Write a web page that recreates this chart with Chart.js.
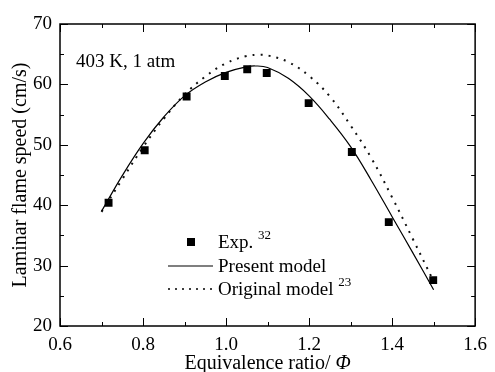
<!DOCTYPE html>
<html>
<head>
<meta charset="utf-8">
<script src="https://cdn.jsdelivr.net/npm/chart.js@4.4.1/dist/chart.umd.min.js"></script>
<style>
  html, body { margin: 0; padding: 0; background: #fff; }
  #wrap { width: 495px; height: 372px; }
</style>
</head>
<body>
<div id="wrap"><canvas id="myChart" width="495" height="372"></canvas></div>
<script>
// Exp. 32 (squares)
const expPhi   = [0.717, 0.804, 0.905, 0.997, 1.051, 1.098, 1.199, 1.303, 1.392, 1.499];
const expSpeed = [40.4, 49.1, 58.0, 61.4, 62.5, 61.9, 56.9, 48.8, 37.2, 27.6];

// Present model (solid)
const presentPhi   = [0.70, 0.75, 0.80, 0.85, 0.90, 0.95, 1.00, 1.05, 1.07, 1.10, 1.15, 1.20, 1.25, 1.30, 1.35, 1.40, 1.45, 1.50];
const presentSpeed = [39.0, 44.9, 50.2, 54.6, 58.1, 60.4, 62.0, 62.9, 63.05, 62.8, 61.0, 58.1, 54.2, 49.7, 44.1, 38.1, 32.1, 26.0];

// Original model 23 (dotted)
const originalPhi   = [0.70, 0.75, 0.80, 0.85, 0.90, 0.95, 1.00, 1.05, 1.08, 1.10, 1.15, 1.20, 1.25, 1.30, 1.35, 1.40, 1.45, 1.50];
const originalSpeed = [38.9, 44.3, 49.6, 54.3, 58.3, 61.3, 63.5, 64.7, 64.9, 64.8, 63.7, 61.4, 58.0, 53.2, 47.8, 41.3, 34.4, 27.4];

// axis ticks
const xTicks = [0.6, 0.7, 0.8, 0.9, 1.0, 1.1, 1.2, 1.3, 1.4, 1.5, 1.6];
const yTicks = [20, 25, 30, 35, 40, 45, 50, 55, 60, 65, 70];

const FONT = '"Liberation Serif", "Times New Roman", serif';

function toXY(xs, ys) {
    return xs.map(function(x, i) { return { x: x, y: ys[i] }; });
}

// Frame, inward ticks, annotation, legend and x title
const framePlugin = {
    id: 'frame',
    afterDraw: function(chart) {
        const ctx = chart.ctx;
        const a = chart.chartArea;
        const xs = chart.scales.x;
        const ys = chart.scales.y;
        ctx.save();
        ctx.strokeStyle = '#000';
        ctx.lineWidth = 1.5;
        ctx.strokeRect(a.left, a.top, a.right - a.left, a.bottom - a.top);

        ctx.lineWidth = 1;
        ctx.beginPath();
        xTicks.forEach(function(v, i) {
            const px = Math.round(xs.getPixelForValue(v)) + 0.5;
            const len = i % 2 === 0 ? 8 : 4;
            ctx.moveTo(px, a.bottom); ctx.lineTo(px, a.bottom - len);
            ctx.moveTo(px, a.top); ctx.lineTo(px, a.top + len);
        });
        yTicks.forEach(function(v, i) {
            const py = Math.round(ys.getPixelForValue(v)) + 0.5;
            const len = i % 2 === 0 ? 8 : 4;
            ctx.moveTo(a.left, py); ctx.lineTo(a.left + len, py);
            ctx.moveTo(a.right, py); ctx.lineTo(a.right - len, py);
        });
        ctx.stroke();

        ctx.fillStyle = '#000';
        ctx.textBaseline = 'middle';
        ctx.textAlign = 'left';
        ctx.font = '19px ' + FONT;
        ctx.fillText('403 K, 1 atm', a.left + 16, a.top + 38);

        // legend
        const lx = a.left + 108;
        const tx = a.left + 158;
        // Exp.
        ctx.fillRect(lx + 19, 238, 8, 8);
        ctx.fillText('Exp.', tx, 243);
        let w = ctx.measureText('Exp. ').width;
        ctx.font = '13px ' + FONT;
        ctx.fillText('32', tx + w, 236);
        // Present model
        ctx.font = '19px ' + FONT;
        ctx.beginPath();
        ctx.lineWidth = 1.2;
        ctx.moveTo(lx, 266); ctx.lineTo(lx + 45, 266);
        ctx.stroke();
        ctx.fillText('Present model', tx, 267);
        // Original model
        ctx.beginPath();
        ctx.lineWidth = 1.5;
        ctx.setLineDash([2, 5]);
        ctx.moveTo(lx, 289); ctx.lineTo(lx + 46, 289);
        ctx.stroke();
        ctx.setLineDash([]);
        ctx.fillText('Original model', tx, 290);
        w = ctx.measureText('Original model ').width;
        ctx.font = '13px ' + FONT;
        ctx.fillText('23', tx + w, 283);

        // x axis title
        ctx.font = '20px ' + FONT;
        const t1 = 'Equivalence ratio/ ';
        const w1 = ctx.measureText(t1).width;
        ctx.font = 'italic 20px ' + FONT;
        const w2 = ctx.measureText('\u03A6').width;
        const cx = (a.left + a.right) / 2;
        const start = cx - (w1 + w2) / 2;
        ctx.font = '20px ' + FONT;
        ctx.fillText(t1, start, 364);
        ctx.font = 'italic 20px ' + FONT;
        ctx.fillText('\u03A6', start + w1, 364);
        ctx.restore();
    }
};

const config = {
    type: 'scatter',
    data: {
        datasets: [
            {
                label: 'Exp. 32',
                data: toXY(expPhi, expSpeed),
                pointStyle: 'rect',
                pointRadius: 5.6,
                pointHoverRadius: 5.6,
                backgroundColor: '#000',
                borderColor: '#000',
                borderWidth: 0,
                showLine: false
            },
            {
                label: 'Present model',
                data: toXY(presentPhi, presentSpeed),
                showLine: true,
                borderColor: '#000',
                borderWidth: 1.2,
                pointRadius: 0,
                tension: 0.4,
                fill: false
            },
            {
                label: 'Original model 23',
                data: toXY(originalPhi, originalSpeed),
                showLine: true,
                borderColor: '#111',
                borderWidth: 2,
                borderDash: [2, 6],
                pointRadius: 0,
                tension: 0.4,
                fill: false
            }
        ]
    },
    options: {
        responsive: false,
        devicePixelRatio: 1,
        animation: false,
        layout: { padding: { left: 0, right: 15, top: 24, bottom: 0 } },
        plugins: {
            legend: { display: false },
            tooltip: { enabled: false }
        },
        scales: {
            x: {
                type: 'linear',
                min: 0.6,
                max: 1.6,
                grid: { display: false, drawTicks: false },
                border: { display: false },
                ticks: {
                    stepSize: 0.2,
                    padding: 8,
                    color: '#000',
                    font: { family: FONT, size: 19 },
                    callback: function(v) { return Number(v).toFixed(1); }
                },
                afterFit: function(s) { s.height = 46; }
            },
            y: {
                min: 20,
                max: 70,
                grid: { display: false, drawTicks: false },
                border: { display: false },
                ticks: {
                    stepSize: 10,
                    padding: 8,
                    color: '#000',
                    font: { family: FONT, size: 19 }
                },
                title: {
                    display: true,
                    text: 'Laminar flame speed (cm/s)',
                    color: '#000',
                    font: { family: FONT, size: 20 },
                    padding: { top: 9, bottom: 0 }
                },
                afterFit: function(s) { s.width = 60; }
            }
        }
    },
    plugins: [framePlugin]
};

const myChart = new Chart(document.getElementById('myChart'), config);
</script>
</body>
</html>
